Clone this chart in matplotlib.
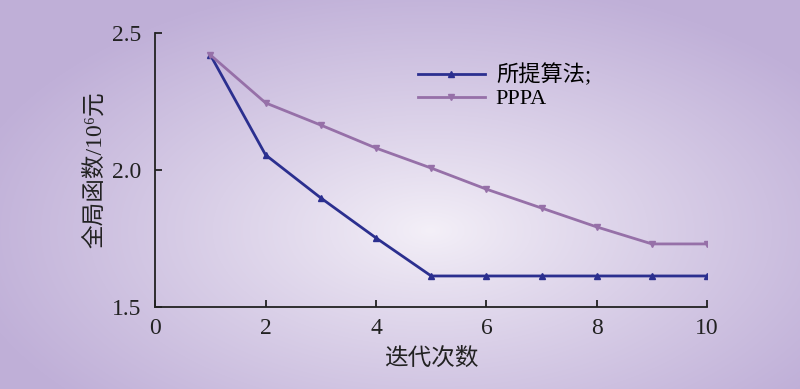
import numpy as np
import matplotlib
matplotlib.use("Agg")
import matplotlib.pyplot as plt

plt.rcParams['font.family'] = ['Liberation Serif', 'Noto Sans CJK SC']

# data
iters = [1, 2, 3, 4, 5, 6, 7, 8, 9, 10]
proposed = [2.42, 2.055, 1.898, 1.752, 1.613, 1.613, 1.613, 1.613, 1.613, 1.613]
pppa = [2.42, 2.245, 2.164, 2.08, 2.007, 1.93, 1.861, 1.792, 1.73, 1.73]
labels = ['所提算法;', 'PPPA']

fig = plt.figure(figsize=(8, 3.89), dpi=100)

# radial purple gradient background
bg = fig.add_axes([0, 0, 1, 1])
h, w = 389, 800
yy, xx = np.mgrid[0:h, 0:w]
d = np.sqrt(((xx - 430) / 470.0) ** 2 + ((yy - 230) / 250.0) ** 2)
d = np.clip(d, 0, 1) ** 0.9
inner = np.array([244, 240, 248]) / 255.0
outer = np.array([192, 176, 216]) / 255.0
img = inner[None, None, :] * (1 - d[..., None]) + outer[None, None, :] * d[..., None]
bg.imshow(img, aspect='auto', extent=[0, 1, 0, 1], origin='upper')
bg.axis('off')

ax = fig.add_axes([0.194, 0.211, 0.69, 0.704])
ax.patch.set_alpha(0)
ax.plot(iters, proposed, color='#2b2f8f', lw=2, marker='^', ms=5, label=labels[0])
ax.plot(iters, pppa, color='#9670a8', lw=2, marker='v', ms=5, label=labels[1])

ax.set_xlim(0, 10)
ax.set_ylim(1.5, 2.5)
ax.set_xticks([0, 2, 4, 6, 8, 10])
ax.set_yticks([1.5, 2.0, 2.5])
ax.set_yticklabels(['1.5', '2.0', '2.5'])
for s in ['top', 'right']:
    ax.spines[s].set_visible(False)
for s in ['left', 'bottom']:
    ax.spines[s].set_color('#222222')
    ax.spines[s].set_linewidth(1.3)
ax.tick_params(direction='in', length=5, width=1.3, labelsize=17, colors='#222222')
ax.tick_params(axis='x', pad=8)
ax.tick_params(axis='y', pad=10)
ax.set_xlabel('迭代次数', fontsize=17, color='#222222', labelpad=6)
ax.set_ylabel('全局函数/10⁶元', fontsize=17, color='#222222', labelpad=4)

ax.legend(loc='upper left', bbox_to_anchor=(0.44, 0.96), frameon=False, fontsize=16,
          handlelength=3.0, handletextpad=0.5, labelspacing=0.1)

fig.savefig('out.png', dpi=100)
